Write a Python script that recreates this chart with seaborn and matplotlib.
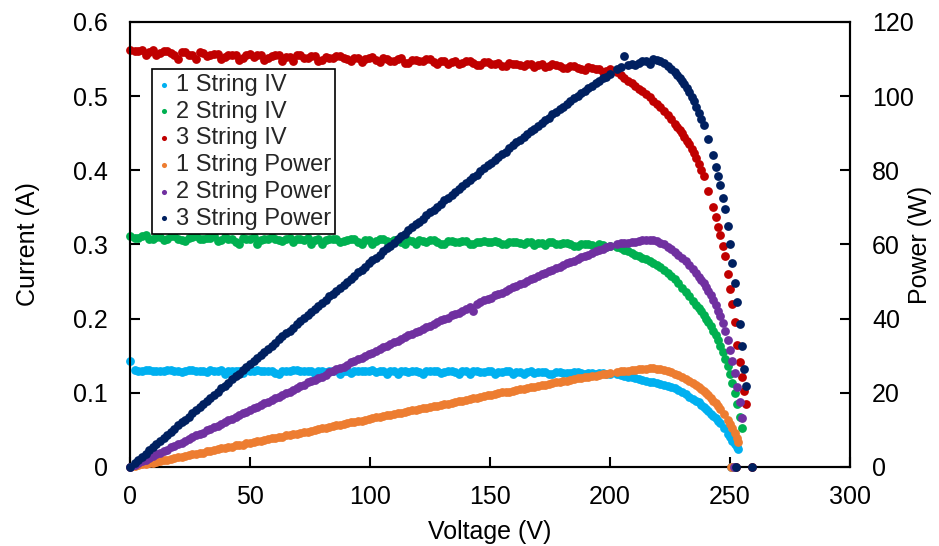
import matplotlib
matplotlib.use("Agg")
import matplotlib.pyplot as plt
import seaborn as sns

# ---------------- data ----------------
v1 = [0, 2, 5, 8, 11, 14, 17, 20, 23, 26,
      29, 32, 35, 38, 41, 44, 47, 50, 53, 56,
      59, 62, 65, 68, 71, 74, 77, 80, 83, 86,
      89, 92, 95, 98, 101, 104, 107, 110, 113, 116,
      119, 122, 125, 128, 131, 134, 137, 140, 143, 146,
      149, 152, 155, 158, 161, 164, 167, 170, 173, 176,
      179, 182, 185, 188, 191, 194, 197, 200,
      203, 206, 209, 212, 215, 218, 221, 224, 227, 230, 233, 236, 238, 240,
      242, 244, 246, 247.5, 249, 250, 251, 252, 253, 253.5,
      250.5]
i1 = [0.143, 0.131, 0.130, 0.131, 0.129, 0.130, 0.131, 0.130, 0.129, 0.131,
      0.130, 0.128, 0.130, 0.131, 0.129, 0.130, 0.127, 0.130, 0.131, 0.129,
      0.130, 0.126, 0.130, 0.131, 0.129, 0.130, 0.126, 0.130, 0.129, 0.131,
      0.130, 0.127, 0.130, 0.129, 0.131, 0.130, 0.126, 0.129, 0.130, 0.128,
      0.130, 0.126, 0.129, 0.130, 0.128, 0.129, 0.126, 0.130, 0.129, 0.128,
      0.129, 0.126, 0.128, 0.129, 0.128, 0.126, 0.129, 0.128, 0.128, 0.126,
      0.128, 0.127, 0.128, 0.127, 0.127, 0.126, 0.127, 0.126,
      0.125, 0.123, 0.121, 0.118, 0.116, 0.114, 0.112, 0.109, 0.106, 0.101,
      0.095, 0.089, 0.084, 0.078, 0.072, 0.066, 0.059, 0.053, 0.045, 0.040,
      0.035, 0.031, 0.027, 0.024,
      0.0]
p1 = [0, 0.3, 0.7, 1.0, 1.4, 1.8, 2.2, 2.6, 3.0, 3.4,
      3.8, 4.2, 4.5, 5.0, 5.3, 5.8, 6.0, 6.6, 6.9, 7.2,
      7.7, 8.0, 8.5, 8.8, 9.3, 9.5, 10.1, 10.4, 10.7, 11.3,
      11.5, 12.0, 12.3, 12.8, 13.1, 13.5, 13.9, 14.4, 14.6, 15.1,
      15.4, 15.9, 16.2, 16.5, 17.1, 17.3, 17.8, 18.1, 18.6, 18.8,
      19.3, 19.6, 20.1, 20.3, 20.8, 21.1, 21.5, 21.9, 22.2, 22.6,
      23.0, 23.3, 23.7, 24.0, 24.4, 24.6, 25.0, 25.3,
      25.6, 25.9, 26.1, 26.3, 26.5, 26.6, 26.4, 25.9, 25.2, 24.3,
      23.3, 22.0, 21.1, 19.9, 18.6, 17.2, 15.6, 14.2, 12.6, 11.6,
      10.4, 9.1, 7.9, 6.8,
      0.0]

v2 = [0, 2, 5, 8, 11, 14, 17, 20, 23, 26,
      29, 32, 35, 38, 41, 44, 47, 50, 53, 56,
      59, 62, 65, 68, 71, 74, 77, 80, 83, 86,
      89, 92, 95, 98, 101, 104, 107, 110, 113, 116,
      119, 122, 125, 128, 131, 134, 137, 140, 143, 146,
      149, 152, 155, 158, 161, 164, 167, 170, 173, 176,
      179, 182, 185, 188, 191, 194, 197, 200,
      203, 206, 209, 212, 215, 218, 221, 224, 227, 230, 233, 236, 238, 240,
      242, 244, 246, 247, 248, 249, 250, 251, 252, 253, 254, 255,
      251.5]
i2 = [0.312, 0.309, 0.311, 0.307, 0.310, 0.306, 0.312, 0.308, 0.305, 0.310,
      0.307, 0.309, 0.311, 0.306, 0.308, 0.304, 0.309, 0.307, 0.300, 0.308,
      0.310, 0.306, 0.308, 0.303, 0.307, 0.309, 0.306, 0.301, 0.307, 0.308,
      0.305, 0.307, 0.304, 0.306, 0.301, 0.307, 0.305, 0.306, 0.303, 0.306,
      0.300, 0.305, 0.306, 0.304, 0.301, 0.305, 0.303, 0.305, 0.300, 0.304,
      0.303, 0.305, 0.301, 0.303, 0.304, 0.300, 0.303, 0.302, 0.299, 0.303,
      0.301, 0.302, 0.298, 0.301, 0.300, 0.297, 0.299, 0.298,
      0.296, 0.293, 0.288, 0.284, 0.280, 0.275, 0.270, 0.262, 0.254, 0.242,
      0.230, 0.218, 0.210, 0.200, 0.190, 0.178, 0.163, 0.155, 0.146, 0.136,
      0.126, 0.113, 0.100, 0.085, 0.068, 0.053,
      0.0]
p2 = [0, 0.6, 1.5, 2.5, 3.4, 4.3, 5.3, 6.2, 7.0, 8.0,
      8.9, 9.9, 10.8, 11.6, 12.6, 13.4, 14.5, 15.3, 16.1, 17.2,
      18.2, 19.0, 20.0, 20.7, 21.8, 22.8, 23.5, 24.4, 25.5, 26.4,
      27.1, 28.2, 29.0, 30.0, 30.8, 31.9, 32.7, 33.6, 34.4, 35.5,
      36.3, 37.3, 38.1, 39.2, 39.9, 40.9, 41.6, 42.7, 42.0, 44.4,
      45.2, 46.3, 47.0, 48.0, 48.9, 49.7, 50.6, 51.5, 52.3, 53.2,
      54.0, 55.0, 55.6, 56.6, 57.3, 58.2, 58.9, 59.6,
      60.1, 60.4, 60.6, 61.0, 61.1, 61.3, 60.5, 59.4, 58.0, 56.4,
      54.5, 52.2, 50.4, 48.6, 46.3, 43.6, 40.6, 38.8, 36.6, 34.2,
      31.5, 28.7, 25.4, 21.6, 17.6, 13.2,
      0.0]

v3 = [0, 2, 5, 8, 11, 14, 17, 20, 23, 26,
      29, 32, 35, 38, 41, 44, 47, 50, 53, 56,
      59, 62, 65, 68, 71, 74, 77, 80, 83, 86,
      89, 92, 95, 98, 101, 104, 107, 110, 113, 116,
      119, 122, 125, 128, 131, 134, 137, 140, 143, 146,
      149, 152, 155, 158, 161, 164, 167, 170, 173, 176,
      179, 182, 185, 188, 191, 194, 197, 200,
      203, 206, 209, 212, 215, 218, 221, 224, 227, 229, 231, 233, 235, 237,
      239, 241, 243, 244, 245, 246, 247, 248, 249, 250, 251, 252, 253, 254,
      255, 256, 256.7,
      252.5, 259]
i3 = [0.562, 0.561, 0.562, 0.560, 0.556, 0.561, 0.558, 0.550, 0.559, 0.556,
      0.560, 0.554, 0.557, 0.550, 0.556, 0.555, 0.552, 0.557, 0.555, 0.549,
      0.554, 0.556, 0.553, 0.548, 0.555, 0.552, 0.554, 0.549, 0.552, 0.554,
      0.551, 0.547, 0.552, 0.550, 0.553, 0.546, 0.550, 0.548, 0.551, 0.545,
      0.549, 0.547, 0.550, 0.544, 0.548, 0.546, 0.543, 0.548, 0.545, 0.542,
      0.546, 0.544, 0.541, 0.545, 0.543, 0.540, 0.544, 0.542, 0.539, 0.543,
      0.541, 0.538, 0.540, 0.536, 0.539, 0.537, 0.533, 0.536,
      0.532, 0.524, 0.518, 0.510, 0.503, 0.494, 0.485, 0.475, 0.462, 0.454,
      0.445, 0.435, 0.423, 0.408, 0.392, 0.372, 0.350, 0.337, 0.324, 0.313,
      0.298, 0.285, 0.260, 0.240, 0.220, 0.195, 0.165, 0.142, 0.122, 0.102,
      0.085,
      0.0, 0.0]
p3 = [0, 1.1, 2.8, 4.5, 6.2, 7.8, 9.5, 11.2, 12.8, 14.5,
      16.2, 17.8, 19.5, 21.2, 22.7, 24.5, 26.1, 27.8, 29.3, 31.1,
      32.7, 34.5, 36.0, 37.6, 39.4, 40.9, 42.7, 44.2, 46.0, 47.5,
      49.2, 50.8, 52.5, 54.0, 55.8, 57.3, 59.0, 60.5, 62.3, 63.8,
      65.5, 67.0, 68.8, 70.2, 72.0, 73.4, 75.1, 76.6, 78.3, 79.7,
      81.5, 82.8, 84.5, 85.9, 87.6, 89.0, 90.6, 92.0, 93.6, 95.1,
      96.6, 98.0, 99.5, 100.8, 102.3, 103.5, 104.9, 106.0,
      107.2, 110.8, 108.8, 109.0, 109.6, 110.0, 109.5, 108.2, 106.5, 105.0,
      103.2, 101.0, 98.6, 95.5, 92.2, 88.5, 84.0, 81.0, 78.5, 76.0,
      72.5, 69.5, 65.0, 60.0, 55.0, 49.5, 44.5, 38.5, 32.5, 26.5,
      21.8,
      0.0, 0.0]

# additional in-between readings of the linear region (all three strings)
v_mid = [3.5, 6.5, 9.5, 12.5, 15.5, 18.5, 21.5, 24.5, 27.5, 30.5,
         33.5, 36.5, 39.5, 42.5, 45.5, 48.5, 51.5, 54.5, 57.5, 60.5,
         63.5, 66.5, 69.5, 72.5, 75.5, 78.5, 81.5, 84.5, 87.5, 90.5,
         93.5, 96.5, 99.5, 102.5, 105.5, 108.5, 111.5, 114.5, 117.5, 120.5,
         123.5, 126.5, 129.5, 132.5, 135.5, 138.5, 141.5, 144.5, 147.5, 150.5,
         153.5, 156.5, 159.5, 162.5, 165.5, 168.5, 171.5, 174.5, 177.5, 180.5,
         183.5, 186.5, 189.5, 192.5, 195.5, 198.5]
i1_mid = [0.130, 0.131, 0.129, 0.130, 0.131, 0.130, 0.128, 0.131, 0.130, 0.129,
          0.131, 0.130, 0.126, 0.130, 0.129, 0.131, 0.130, 0.129, 0.130, 0.127,
          0.130, 0.129, 0.131, 0.130, 0.129, 0.130, 0.128, 0.130, 0.126, 0.129,
          0.130, 0.129, 0.130, 0.128, 0.129, 0.130, 0.126, 0.129, 0.130, 0.128,
          0.129, 0.130, 0.127, 0.129, 0.128, 0.129, 0.126, 0.129, 0.128, 0.129,
          0.128, 0.129, 0.126, 0.128, 0.128, 0.127, 0.128, 0.126, 0.128, 0.127,
          0.127, 0.128, 0.126, 0.127, 0.127, 0.126]
p1_mid = [0.5, 0.8, 1.2, 1.6, 2.0, 2.4, 2.8, 3.2, 3.6, 3.9,
          4.4, 4.8, 5.1, 5.5, 5.9, 6.4, 6.7, 7.0, 7.5, 7.9,
          8.2, 8.7, 9.0, 9.4, 9.8, 10.2, 10.6, 11.0, 11.3, 11.8,
          12.1, 12.5, 12.9, 13.4, 13.7, 14.0, 14.5, 14.8, 15.3, 15.6,
          16.0, 16.4, 16.8, 17.1, 17.6, 17.9, 18.3, 18.7, 19.1, 19.4,
          19.9, 20.2, 20.5, 21.0, 21.3, 21.7, 22.1, 22.4, 22.8, 23.2,
          23.5, 23.9, 24.2, 24.5, 24.9, 25.1]
i2_mid = [0.309, 0.313, 0.307, 0.310, 0.308, 0.311, 0.306, 0.309, 0.312, 0.307,
          0.309, 0.305, 0.310, 0.308, 0.301, 0.308, 0.310, 0.306, 0.308, 0.307,
          0.305, 0.309, 0.307, 0.306, 0.301, 0.308, 0.306, 0.307, 0.304, 0.306,
          0.307, 0.301, 0.306, 0.305, 0.307, 0.304, 0.306, 0.300, 0.305, 0.306,
          0.304, 0.306, 0.301, 0.305, 0.304, 0.305, 0.300, 0.304, 0.305, 0.303,
          0.304, 0.300, 0.304, 0.302, 0.303, 0.299, 0.302, 0.303, 0.300, 0.302,
          0.301, 0.298, 0.301, 0.299, 0.300, 0.297]
p2_mid = [1.1, 2.0, 2.9, 3.9, 4.7, 5.7, 6.6, 7.5, 8.5, 9.3,
          10.3, 11.1, 12.1, 13.0, 13.9, 14.8, 15.8, 16.6, 17.6, 18.5,
          19.4, 20.3, 21.3, 22.1, 23.1, 24.0, 24.9, 25.8, 26.8, 27.6,
          28.6, 29.5, 30.4, 31.3, 32.3, 33.1, 34.1, 35.0, 35.8, 36.8,
          37.7, 38.6, 39.6, 40.3, 41.3, 42.2, 43.1, 44.0, 44.9, 45.7,
          46.7, 47.5, 48.5, 49.3, 50.2, 51.1, 52.0, 52.8, 53.7, 54.5,
          55.4, 56.2, 57.0, 57.8, 58.6, 59.3]
i3_mid = [0.561, 0.556, 0.562, 0.558, 0.561, 0.555, 0.559, 0.556, 0.550, 0.558,
          0.555, 0.557, 0.553, 0.556, 0.549, 0.555, 0.553, 0.556, 0.552, 0.555,
          0.548, 0.553, 0.555, 0.551, 0.554, 0.547, 0.553, 0.551, 0.554, 0.550,
          0.552, 0.546, 0.551, 0.549, 0.552, 0.548, 0.550, 0.545, 0.549, 0.547,
          0.550, 0.546, 0.548, 0.543, 0.547, 0.545, 0.547, 0.542, 0.546, 0.544,
          0.545, 0.541, 0.544, 0.542, 0.544, 0.539, 0.543, 0.541, 0.542, 0.538,
          0.540, 0.538, 0.535, 0.538, 0.536, 0.534]
p3_mid = [2.0, 3.6, 5.3, 7.0, 8.6, 10.3, 12.0, 13.6, 15.3, 17.0,
          18.6, 20.3, 21.9, 23.6, 25.2, 26.9, 28.6, 30.2, 31.9, 33.5,
          35.2, 36.8, 38.5, 40.1, 41.8, 43.3, 45.1, 46.6, 48.3, 49.9,
          51.6, 53.1, 54.9, 56.4, 58.2, 59.7, 61.4, 62.9, 64.6, 66.1,
          67.9, 69.3, 71.0, 72.5, 74.2, 75.7, 77.4, 78.8, 80.6, 81.9,
          83.6, 85.0, 86.7, 88.1, 89.8, 91.2, 92.7, 94.2, 95.8, 97.1,
          98.6, 100.0, 101.4, 102.8, 104.1, 105.3]

# additional readings around the maximum-power knee
v12_knee = [204.5, 207.5, 210.5, 213.5, 216.5, 219.5, 222.5, 225.5,
            228.5, 231.5, 234.5, 237, 239, 241, 243, 245]
i1_knee = [0.124, 0.122, 0.120, 0.117, 0.115, 0.113, 0.111, 0.108,
           0.104, 0.098, 0.092, 0.087, 0.081, 0.075, 0.069, 0.062]
p1_knee = [25.8, 26.0, 26.2, 26.4, 26.6, 26.5, 26.2, 25.6,
           24.8, 23.8, 22.7, 21.6, 20.5, 19.3, 17.9, 16.4]
i2_knee = [0.295, 0.291, 0.286, 0.282, 0.278, 0.273, 0.266, 0.258,
           0.248, 0.236, 0.224, 0.214, 0.205, 0.195, 0.184, 0.171]
p2_knee = [60.3, 60.5, 60.8, 61.1, 61.2, 61.0, 60.0, 58.7,
           57.2, 55.5, 53.4, 51.3, 49.5, 47.5, 45.0, 42.1]
v3_knee = [204.5, 207.5, 210.5, 213.5, 216.5, 219.5, 222.5, 225.5,
           228, 230, 232, 234, 236, 238]
i3_knee = [0.528, 0.521, 0.514, 0.507, 0.499, 0.490, 0.480, 0.469,
           0.458, 0.450, 0.440, 0.429, 0.416, 0.400]
p3_knee = [107.8, 108.5, 108.3, 109.4, 108.8, 109.8, 108.9, 107.4,
           105.8, 104.1, 102.1, 99.8, 97.0, 93.8]

labels = ["1 String IV", "2 String IV", "3 String IV",
          "1 String Power", "2 String Power", "3 String Power"]
colors = ["#00B0F0", "#00B050", "#C00000", "#ED7D31", "#7030A0", "#002060"]
x_ticks = [0, 50, 100, 150, 200, 250, 300]
i_ticks = [0, 0.1, 0.2, 0.3, 0.4, 0.5, 0.6]
i_tick_labels = ["0", "0.1", "0.2", "0.3", "0.4", "0.5", "0.6"]
p_ticks = [0, 20, 40, 60, 80, 100, 120]

# ---------------- style ----------------
sns.set_theme(style="white")
plt.rcParams["font.family"] = ["Liberation Sans", "DejaVu Sans"]
FS = 18

fig = plt.figure(figsize=(9.39, 5.46), dpi=100)
ax = fig.add_axes([0.13845, 0.14469, 0.76677, 0.81502])
ax2 = ax.twinx()

S = 40
iv_sets = [(v1 + v_mid + v12_knee, i1 + i1_mid + i1_knee),
           (v2 + v_mid + v12_knee, i2 + i2_mid + i2_knee),
           (v3 + v_mid + v3_knee, i3 + i3_mid + i3_knee)]
pw_sets = [(v1 + v_mid + v12_knee, p1 + p1_mid + p1_knee),
           (v2 + v_mid + v12_knee, p2 + p2_mid + p2_knee),
           (v3 + v_mid + v3_knee, p3 + p3_mid + p3_knee)]
for k, (xv, yv) in enumerate(iv_sets):
    sns.scatterplot(x=xv, y=yv, ax=ax, color=colors[k], s=S, linewidth=0,
                    label=labels[k], clip_on=False, legend=False, zorder=3)
for k, (xv, yv) in enumerate(pw_sets):
    sns.scatterplot(x=xv, y=yv, ax=ax2, color=colors[k + 3], s=S, linewidth=0,
                    label=labels[k + 3], clip_on=False, legend=False, zorder=3)

ax.set_xlim(0, 300)
ax.set_ylim(0, 0.6)
ax2.set_ylim(0, 120)
ax.set_xticks(x_ticks)
ax.set_xticklabels([str(t) for t in x_ticks])
ax.set_yticks(i_ticks)
ax.set_yticklabels(i_tick_labels)
ax2.set_yticks(p_ticks)
ax2.set_yticklabels([str(t) for t in p_ticks])

ax.tick_params(axis="x", direction="in", length=7, width=1.5, labelsize=FS,
               pad=13, colors="black", bottom=True)
ax.tick_params(axis="y", direction="in", length=7, width=1.5, labelsize=FS,
               pad=16, colors="black", left=True)
ax2.tick_params(axis="y", direction="in", length=7, width=1.5, labelsize=FS,
                pad=16, colors="black", right=True)

for a in (ax, ax2):
    for sp in a.spines.values():
        sp.set_visible(True)
        sp.set_color("black")
        sp.set_linewidth(1.5)

ax.set_xlabel("Voltage (V)", fontsize=FS, color="black")
ax.set_ylabel("Current (A)", fontsize=FS, color="black")
ax2.set_ylabel("Power (W)", fontsize=FS, color="black")
ax.xaxis.set_label_coords(0.5, -0.118)
ax.yaxis.set_label_coords(-0.125, 0.5)
ax2.yaxis.set_label_coords(1.080, 0.5)

h1, l1 = ax.get_legend_handles_labels()
h2, l2 = ax2.get_legend_handles_labels()
if ax.get_legend() is not None:
    ax.get_legend().remove()
leg = ax2.legend(h1 + h2, l1 + l2, loc="upper left",
                 bbox_to_anchor=(0.0306, 0.894), borderaxespad=0,
                 frameon=True, fancybox=False, edgecolor="black",
                 framealpha=1, fontsize=17, markerscale=0.58,
                 handletextpad=0.2, handlelength=0.6, labelspacing=0.2,
                 borderpad=0.2)
leg.get_frame().set_linewidth(1.2)

fig.savefig("out.png", dpi=100, facecolor="white")
